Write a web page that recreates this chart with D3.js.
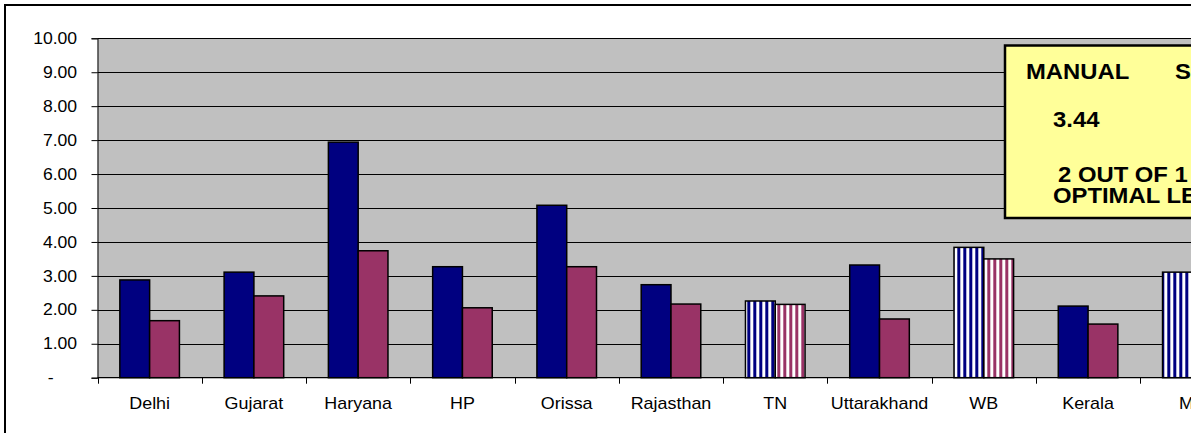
<!DOCTYPE html>
<html>
<head>
<meta charset="utf-8">
<script src="https://cdn.jsdelivr.net/npm/d3@7"></script>
<style>
  html, body { margin: 0; padding: 0; background: #fff; overflow: hidden; }
  svg { display: block; }
  text { font-family: "Liberation Sans", Arial, sans-serif; }
</style>
</head>
<body>
<svg id="chart" width="1191" height="433"></svg>
<script>
// State-wise values for the two series
const categories = ["Delhi", "Gujarat", "Haryana", "HP", "Orissa", "Rajasthan", "TN", "Uttarakhand", "WB", "Kerala", "MP"];
const manualValues = [2.88, 3.11, 6.94, 3.27, 5.08, 2.74, 2.26, 3.32, 3.84, 2.11, 3.11];
const secondValues = [1.68, 2.41, 3.74, 2.06, 3.27, 2.17, 2.16, 1.73, 3.50, 1.58, null];
const stripedCategories = ["TN", "WB", "MP"];
const yTickValues = [0, 1, 2, 3, 4, 5, 6, 7, 8, 9, 10];
const noteLines = ["MANUAL", "S", "3.44", "2 OUT OF 1", "OPTIMAL LEVEL"];

const NAVY = "#000080", PLUM = "#993366";

const svg = d3.select("#chart");

// striped fills
const defs = svg.append("defs");
[["stripeNavy", NAVY], ["stripePlum", PLUM]].forEach(([id, col]) => {
  const p = defs.append("pattern").attr("id", id)
    .attr("patternUnits", "userSpaceOnUse")
    .attr("width", 6).attr("height", 10).attr("x", 3.3);
  p.append("rect").attr("width", 6).attr("height", 10).attr("fill", "#fff");
  p.append("rect").attr("x", 0).attr("width", 3).attr("height", 10).attr("fill", col);
});

// chart area frame (extends past the right/bottom edges)
svg.append("rect").attr("x", 5).attr("y", 5).attr("width", 1400).attr("height", 600)
  .attr("fill", "#fff").attr("stroke", "#000").attr("stroke-width", 2);

const plotLeft = 97.5, plotTop = 38.3, plotBottom = 377.7;
const step = 104.27;
const x = d3.scaleBand().domain(categories).range([plotLeft, plotLeft + step * categories.length])
  .paddingInner(0).paddingOuter(0);
const y = d3.scaleLinear().domain([0, 10]).range([plotBottom, plotTop]);

// plot area
svg.append("rect").attr("x", plotLeft).attr("y", plotTop).attr("width", 1300).attr("height", plotBottom - plotTop)
  .attr("fill", "#c0c0c0");

// gridlines
svg.append("g").selectAll("line").data(yTickValues.filter(d => d > 0)).join("line")
  .attr("x1", plotLeft).attr("x2", 1300)
  .attr("y1", d => Math.round(y(d)) + 0.5).attr("y2", d => Math.round(y(d)) + 0.5)
  .attr("stroke", "#000").attr("stroke-width", 1.1);

// bars
const bw = x.bandwidth() / 3.5;
const off = bw * 0.75;
const rows = categories.map((c, i) => ({ c, a: manualValues[i], b: secondValues[i], striped: stripedCategories.includes(c) }));

const barG = svg.append("g").attr("stroke", "#000").attr("stroke-width", 1.5);
barG.selectAll("rect.a").data(rows.filter(r => r.a != null)).join("rect").attr("class", "a")
  .attr("x", r => x(r.c) + off).attr("width", bw)
  .attr("y", r => y(r.a)).attr("height", r => y(0) - y(r.a))
  .attr("fill", r => r.striped ? "url(#stripeNavy)" : NAVY);
barG.selectAll("rect.b").data(rows.filter(r => r.b != null)).join("rect").attr("class", "b")
  .attr("x", r => x(r.c) + off + bw).attr("width", bw)
  .attr("y", r => y(r.b)).attr("height", r => y(0) - y(r.b))
  .attr("fill", r => r.striped ? "url(#stripePlum)" : PLUM);

// y axis
const yAxis = svg.append("g").attr("transform", `translate(${plotLeft},0)`)
  .call(d3.axisLeft(y).tickValues(yTickValues).tickSize(6).tickPadding(14)
    .tickFormat(d => d === 0 ? "-" : d.toFixed(2)));
yAxis.select(".domain").attr("stroke", "#000");
yAxis.selectAll(".tick line").attr("stroke", "#000");
yAxis.selectAll(".tick text").attr("fill", "#000").style("font-size", "16px")
  .attr("transform", "scale(1.1,1)");
yAxis.selectAll(".tick text").filter(d => d === 0).attr("x", -40);
yAxis.selectAll(".tick text").filter(d => d !== 0).attr("x", -18.5);

// x axis with boundary ticks
const xAxis = svg.append("g").attr("transform", `translate(0,${plotBottom})`)
  .call(d3.axisBottom(x).tickSize(0).tickPadding(20));
xAxis.select(".domain").remove();
xAxis.selectAll(".tick text").attr("fill", "#000").style("font-size", "16px")
  .attr("transform", "scale(1.12,1)");
svg.append("line").attr("x1", plotLeft).attr("x2", 1300).attr("y1", plotBottom).attr("y2", plotBottom)
  .attr("stroke", "#000").attr("stroke-width", 1.2);
const bounds = categories.map(c => x(c)).concat([x(categories[categories.length - 1]) + x.bandwidth()]);
svg.append("g").selectAll("line").data(bounds).join("line")
  .attr("x1", d => Math.round(d) + 0.5).attr("x2", d => Math.round(d) + 0.5)
  .attr("y1", plotBottom).attr("y2", plotBottom + 6).attr("stroke", "#000");

// note box
svg.append("rect").attr("x", 1005).attr("y", 45.5).attr("width", 400).attr("height", 172.5)
  .attr("fill", "#ffff99").attr("stroke", "#000").attr("stroke-width", 2.5);
const noteG = svg.append("g").attr("font-weight", "bold").attr("font-size", "22.5px").attr("fill", "#000");
const notePos = [[1026, 79], [1175, 79], [1053, 127], [1058, 182], [1053, 203]];
noteG.selectAll("text").data(noteLines).join("text")
  .attr("transform", (d, i) => `translate(${notePos[i][0]},${notePos[i][1]}) scale(1.06,1)`)
  .text(d => d);
</script>
</body>
</html>
